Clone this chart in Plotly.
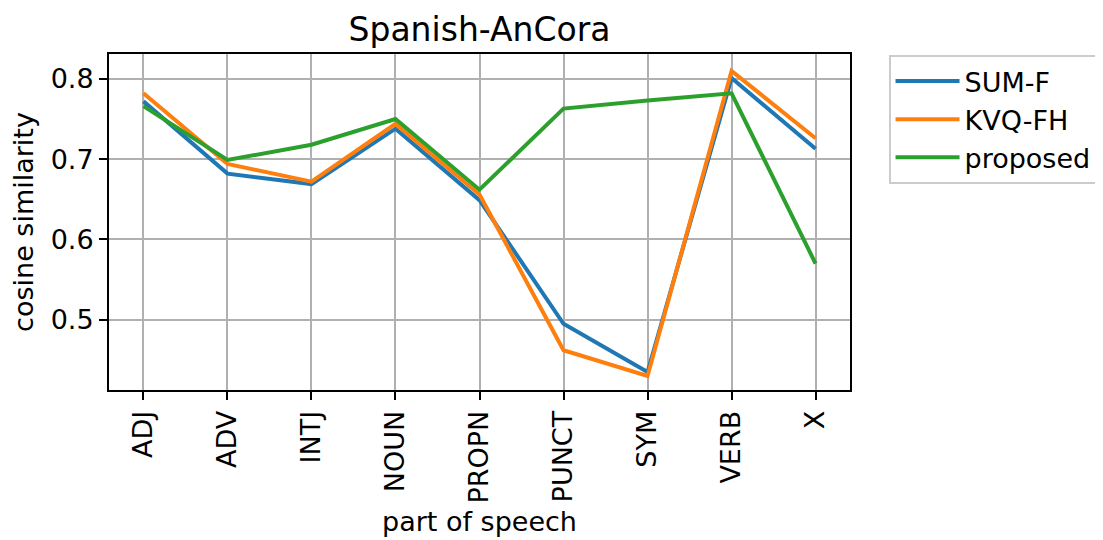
import plotly.graph_objects as go

categories = ["ADJ", "ADV", "INTJ", "NOUN", "PROPN", "PUNCT", "SYM", "VERB", "X"]
sum_f = [0.772, 0.682, 0.669, 0.738, 0.649, 0.495, 0.435, 0.801, 0.713]
kvq_fh = [0.782, 0.694, 0.672, 0.744, 0.656, 0.462, 0.430, 0.810, 0.726]
proposed = [0.766, 0.699, 0.718, 0.750, 0.662, 0.763, 0.773, 0.782, 0.570]
y_ticks = [0.5, 0.6, 0.7, 0.8]

FONT = "DejaVu Sans"
FS = 27

fig = go.Figure()
for i, (name, vals, color) in enumerate([
    ("SUM-F", sum_f, "#1f77b4"),
    ("KVQ-FH", kvq_fh, "#ff7f0e"),
    ("proposed", proposed, "#2ca02c"),
]):
    fig.add_trace(go.Scatter(x=categories, y=vals, mode="lines", name=name,
                             legendgroup="g%d" % i,
                             line=dict(color=color, width=4)))

fig.update_layout(
    width=1103, height=540,
    margin=dict(l=101, r=261, t=46, b=158),
    paper_bgcolor="white", plot_bgcolor="white",
    font=dict(family=FONT, size=FS, color="black"),
    title=dict(text="Spanish-AnCora", x=(101 + 842) / 2 / 1103, xanchor="center",
               y=1 - 21 / 540, yanchor="middle", yref="container",
               font=dict(size=33, family=FONT, color="black")),
    showlegend=True,
    legend=dict(x=1.052, y=0.997, xanchor="left", yanchor="top",
                bordercolor="#cccccc", borderwidth=2, bgcolor="white",
                traceorder="grouped", tracegroupgap=0, itemwidth=64,
                font=dict(size=FS, family=FONT, color="black")),
)

fig.update_xaxes(
    type="category", categoryorder="array", categoryarray=categories,
    range=[-0.41, 8.41], tickangle=-90,
    showgrid=True, gridcolor="#b0b0b0", gridwidth=2,
    showline=True, linecolor="black", linewidth=2, mirror=True,
    ticks="outside", ticklen=8, tickwidth=2, tickcolor="black",
    tickfont=dict(size=FS, family=FONT),
    title=dict(text="part of speech", font=dict(size=FS, family=FONT), standoff=10),
)
fig.update_yaxes(
    range=[0.4125, 0.831], tickvals=y_ticks, tickformat=".1f",
    showgrid=True, gridcolor="#b0b0b0", gridwidth=2, zeroline=False,
    showline=True, linecolor="black", linewidth=2, mirror=True,
    ticks="outside", ticklen=8, tickwidth=2, tickcolor="black",
    tickfont=dict(size=FS, family=FONT),
    title=dict(text="cosine similarity", font=dict(size=FS, family=FONT), standoff=10),
)

fig.write_html("out.html")
